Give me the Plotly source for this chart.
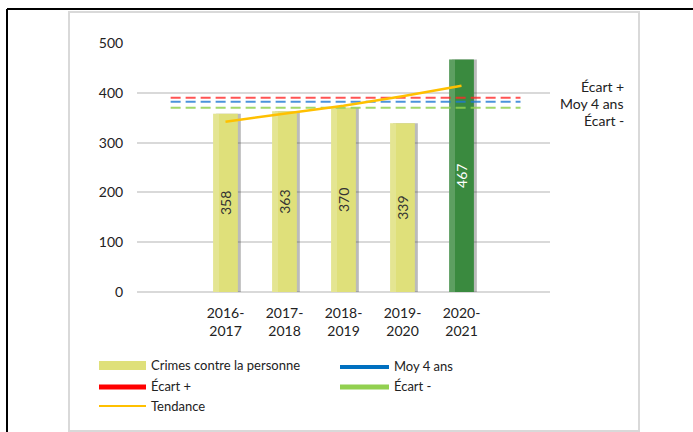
import plotly.graph_objects as go

# ---- data ----
categories = ["2016-<br>2017", "2017-<br>2018", "2018-<br>2019", "2019-<br>2020", "2020-<br>2021"]
crimes = [358, 363, 370, 339, 467]
tendance = [342, 358, 374, 393, 414]
moy_4_ans = 382
ecart_plus = 390
ecart_moins = 370
y_ticks = [0, 100, 200, 300, 400, 500]

W, H = 693, 432
FONT = "Lato"
xpos = list(range(len(categories)))

def px(x):
    return x / W

def py(y):
    return 1 - y / H

yellow = "#dfe07a"
green = "#3a8a3f"
bar_colors = [yellow] * (len(crimes) - 1) + [green]
label_colors = ["#333333"] * (len(crimes) - 1) + ["#ffffff"]

fig = go.Figure()

# bar shadow
fig.add_trace(go.Bar(
    x=xpos, y=crimes, width=0.42, offset=-0.16,
    marker=dict(color="rgba(60,60,60,0.35)", line=dict(width=0)),
    hoverinfo="skip", showlegend=False))
# bars
fig.add_trace(go.Bar(
    x=xpos, y=crimes, width=0.42, offset=-0.21,
    marker=dict(color=bar_colors, line=dict(width=0)),
    text=[str(v) for v in crimes], textposition="inside",
    insidetextanchor="middle", textangle=-90,
    textfont=dict(family=FONT, size=14, color=label_colors),
    name="Crimes contre la personne", showlegend=False))
# highlight on left part of bars
fig.add_trace(go.Bar(
    x=xpos, y=crimes, width=0.1, offset=-0.21,
    marker=dict(color="rgba(255,255,255,0.18)", line=dict(width=0)),
    hoverinfo="skip", showlegend=False))

line_x = [-0.93, 5.0]
fig.add_trace(go.Scatter(x=line_x, y=[ecart_plus] * 2, mode="lines",
                         line=dict(color="rgba(255,40,40,0.8)", width=2, dash="10px,5px"),
                         name="Écart +", showlegend=False))
fig.add_trace(go.Scatter(x=line_x, y=[moy_4_ans] * 2, mode="lines",
                         line=dict(color="rgba(30,120,210,0.8)", width=2, dash="10px,5px"),
                         name="Moy 4 ans", showlegend=False))
fig.add_trace(go.Scatter(x=line_x, y=[ecart_moins] * 2, mode="lines",
                         line=dict(color="rgba(146,208,80,0.85)", width=2, dash="10px,5px"),
                         name="Écart -", showlegend=False))
fig.add_trace(go.Scatter(x=xpos, y=tendance, mode="lines",
                         line=dict(color="#ffc000", width=2.5),
                         name="Tendance", showlegend=False))

shapes = []
annotations = []
# outer black frame (top and left)
shapes.append(dict(type="line", xref="paper", yref="paper", x0=px(7), x1=1, y0=py(9), y1=py(9),
                   line=dict(color="#000000", width=2)))
shapes.append(dict(type="line", xref="paper", yref="paper", x0=px(7), x1=px(7), y0=py(9), y1=0,
                   line=dict(color="#000000", width=2)))
# inner gray frame
shapes.append(dict(type="rect", xref="paper", yref="paper", x0=px(69), x1=px(639), y0=py(431), y1=py(12),
                   line=dict(color="#d9d9d9", width=2)))

# custom legend
def leg_line(x0, x1, y, color, width):
    shapes.append(dict(type="line", xref="paper", yref="paper", x0=px(x0), x1=px(x1), y0=py(y), y1=py(y),
                       line=dict(color=color, width=width)))

def leg_text(x, y, t):
    annotations.append(dict(xref="paper", yref="paper", x=px(x), y=py(y), text=t, showarrow=False,
                            xanchor="left", yanchor="middle", font=dict(family=FONT, size=13, color="#222222")))

shapes.append(dict(type="rect", xref="paper", yref="paper", x0=px(99), x1=px(146), y0=py(370), y1=py(361),
                   fillcolor=yellow, line=dict(width=0)))
leg_text(149, 365, "Crimes contre la personne")
leg_line(340, 389, 367, "#0070c0", 4)
leg_text(392, 366, "Moy 4 ans")
leg_line(99, 146, 387, "#ff0000", 5)
leg_text(149, 386, "Écart +")
leg_line(340, 389, 387, "#92d050", 5)
leg_text(392, 386, "Écart -")
leg_line(99, 146, 406, "#ffc000", 2)
leg_text(149, 406, "Tendance")

# right-side labels
for t, y in [("Écart +", 87), ("Moy 4 ans", 104), ("Écart -", 121)]:
    annotations.append(dict(xref="paper", yref="paper", x=px(626), y=py(y), text=t, showarrow=False,
                            xanchor="right", yanchor="middle", font=dict(family=FONT, size=14, color="#222222")))

fig.update_layout(
    width=W, height=H,
    margin=dict(l=0, r=0, t=0, b=0, autoexpand=False),
    paper_bgcolor="white", plot_bgcolor="white",
    barmode="overlay",
    font=dict(family=FONT, size=14, color="#222222"),
    showlegend=False,
    xaxis=dict(domain=[px(137), px(550)], range=[-1.5, 5.5], automargin=False,
               tickmode="array", tickvals=xpos, ticktext=categories,
               showgrid=False, zeroline=False, showline=False,
               ticks="outside", ticklen=8, tickcolor="rgba(0,0,0,0)",
               tickfont=dict(family=FONT, size=14, color="#222222")),
    yaxis=dict(domain=[py(292), py(43)], range=[0, 500], automargin=False,
               tickvals=y_ticks, showgrid=True, gridcolor="#d9d9d9", gridwidth=2,
               zeroline=True, zerolinecolor="#d9d9d9", zerolinewidth=2, showline=False,
               ticks="outside", ticklen=10, tickcolor="rgba(0,0,0,0)",
               tickfont=dict(family=FONT, size=14, color="#222222")),
    shapes=shapes,
    annotations=annotations,
)

post = (
    "document.body.style.margin='0';"
    "document.body.style.overflow='hidden';"
)
fig.write_html("out.html", config={"displayModeBar": False}, post_script=post)
